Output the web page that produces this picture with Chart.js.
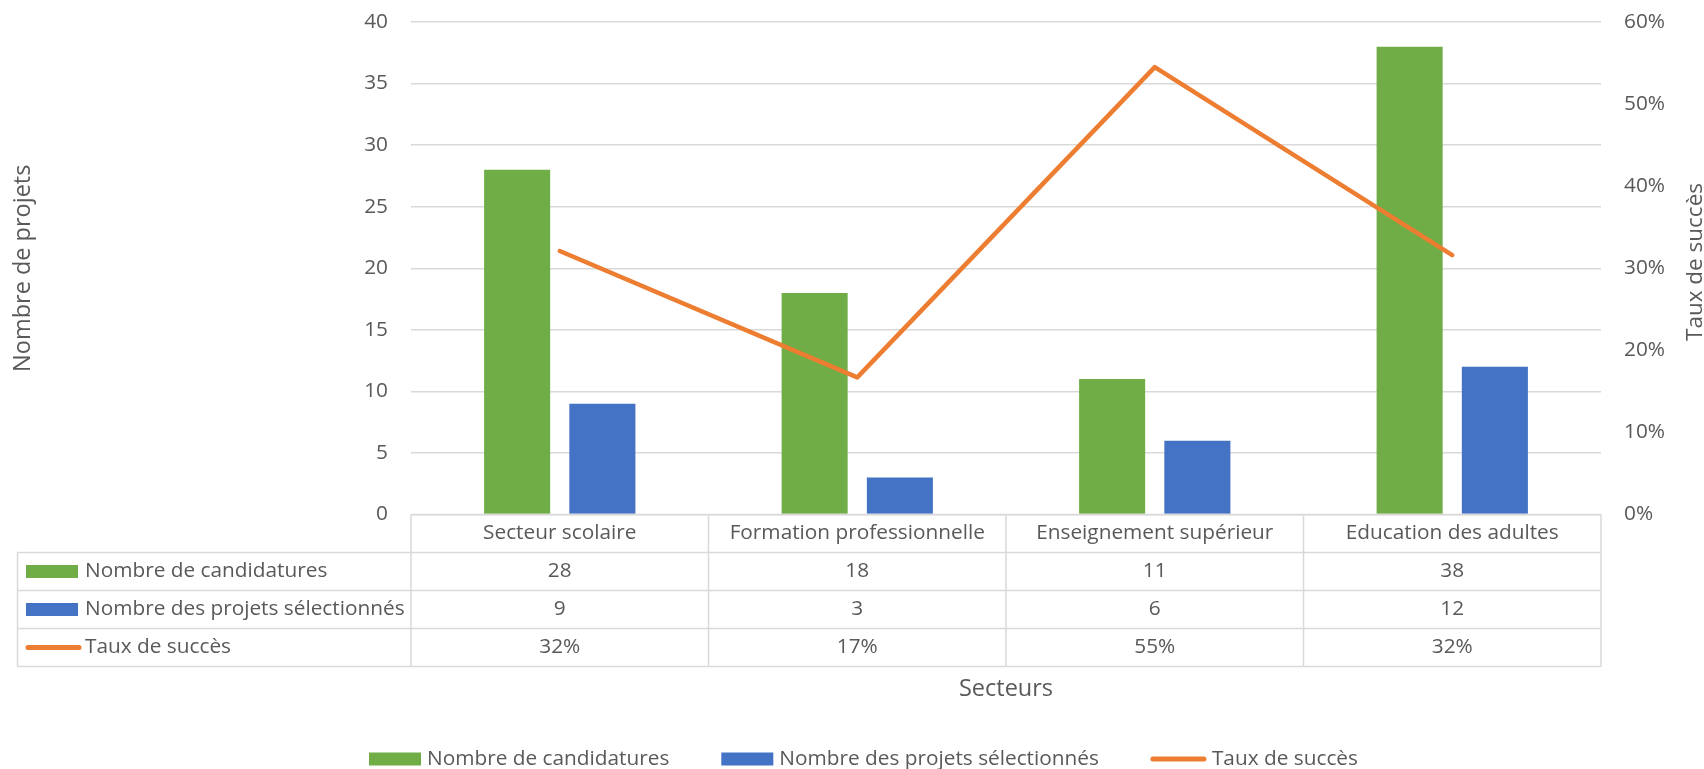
<!DOCTYPE html>
<html lang="fr">
<head>
<meta charset="utf-8">
<title>Secteurs</title>
<script src="https://cdn.jsdelivr.net/npm/chart.js@4/dist/chart.umd.min.js"></script>
<style>
  html, body { margin: 0; padding: 0; background: #fff; }
  #wrap { width: 1704px; height: 769px; }
</style>
</head>
<body>
<div id="wrap"><canvas id="graphique" width="1704" height="769"></canvas></div>
<script>
// Données
const secteurs = ["Secteur scolaire", "Formation professionnelle", "Enseignement supérieur", "Education des adultes"];
const candidatures = [28, 18, 11, 38];
const selectionnes = [9, 3, 6, 12];
const tauxSucces = [0.321, 0.167, 0.545, 0.316];

const nomsSeries = ["Nombre de candidatures", "Nombre des projets sélectionnés", "Taux de succès"];
const couleurs = ["#70AD47", "#4472C4", "#ED7D31"];

const texte = "#595959";
const grille = "#D9D9D9";
const police = "'Open Sans', sans-serif";
const taille = 20.8;
const tailleTitre = 23.5;

function pct(v) { return Math.round(v * 100) + "%"; }

// Tableau de données sous l'axe + titres + légende
const tableauPlugin = {
  id: "tableau",
  afterDraw(chart) {
    const { ctx, chartArea } = chart;
    const xs = chart.scales.x;
    const rowH = 38;
    const gauche = 17.5;
    const top = chartArea.bottom;
    const colW = chartArea.width / secteurs.length;
    const bas = top + rowH * 4;

    ctx.save();
    ctx.strokeStyle = grille;
    ctx.lineWidth = 1.5;

    // lignes horizontales
    ctx.beginPath();
    ctx.moveTo(chartArea.left, top);
    ctx.lineTo(chartArea.right, top);
    for (let k = 1; k <= 4; k++) {
      ctx.moveTo(gauche, top + rowH * k);
      ctx.lineTo(chartArea.right, top + rowH * k);
    }
    // lignes verticales
    ctx.moveTo(gauche, top + rowH);
    ctx.lineTo(gauche, bas);
    for (let i = 0; i <= secteurs.length; i++) {
      const x = chartArea.left + colW * i;
      ctx.moveTo(x, top);
      ctx.lineTo(x, bas);
    }
    ctx.stroke();

    ctx.fillStyle = texte;
    ctx.font = taille + "px " + police;
    ctx.textBaseline = "middle";
    ctx.textAlign = "center";

    const lignes = [
      secteurs,
      candidatures.map(String),
      selectionnes.map(String),
      tauxSucces.map(pct)
    ];
    lignes.forEach((ligne, r) => {
      ligne.forEach((t, i) => {
        ctx.fillText(t, xs.getPixelForValue(i), top + rowH * r + rowH / 2);
      });
    });

    // clés de légende dans le tableau
    ctx.textAlign = "left";
    nomsSeries.forEach((nom, r) => {
      const cy = top + rowH * (r + 1) + rowH / 2;
      dessinerCle(ctx, r, 26, cy);
      ctx.fillStyle = texte;
      ctx.fillText(nom, 85, cy);
    });

    // légende en bas
    let x = 369;
    const ly = 759;
    nomsSeries.forEach((nom, r) => {
      const w = dessinerCle(ctx, r, x, ly);
      ctx.fillStyle = texte;
      ctx.fillText(nom, x + w + 6, ly);
      x += w + 6 + ctx.measureText(nom).width + 52;
    });

    // titre axe x
    ctx.font = tailleTitre + "px " + police;
    ctx.textAlign = "center";
    ctx.fillText("Secteurs", (chartArea.left + chartArea.right) / 2, 689);

    // titre axe droit
    ctx.font = "22.5px " + police;
    ctx.save();
    ctx.translate(1696, 262);
    ctx.rotate(-Math.PI / 2);
    ctx.fillText("Taux de succès", 0, 0);
    ctx.restore();

    ctx.restore();
  }
};

function dessinerCle(ctx, r, x, cy) {
  if (r < 2) {
    ctx.fillStyle = couleurs[r];
    ctx.fillRect(x, cy - 6.5, 52, 13);
    return 52;
  }
  ctx.save();
  ctx.strokeStyle = couleurs[r];
  ctx.lineWidth = 5;
  ctx.lineCap = "round";
  ctx.beginPath();
  ctx.moveTo(x + 2, cy);
  ctx.lineTo(x + 53, cy);
  ctx.stroke();
  ctx.restore();
  return 55;
}

function ajuster(largeur) {
  return scale => {
    scale.width = largeur;
    scale.paddingTop = 0;
    scale.paddingBottom = 0;
  };
}

const ctx = document.getElementById("graphique").getContext("2d");
new Chart(ctx, {
  type: "bar",
  data: {
    labels: secteurs,
    datasets: [
      {
        label: nomsSeries[0],
        data: candidatures,
        backgroundColor: couleurs[0],
        yAxisID: "y",
        order: 1,
        categoryPercentage: 0.573,
        barPercentage: 0.775
      },
      {
        label: nomsSeries[1],
        data: selectionnes,
        backgroundColor: couleurs[1],
        yAxisID: "y",
        order: 1,
        categoryPercentage: 0.573,
        barPercentage: 0.775
      },
      {
        type: "line",
        label: nomsSeries[2],
        data: tauxSucces,
        borderColor: couleurs[2],
        backgroundColor: couleurs[2],
        borderWidth: 4.5,
        borderCapStyle: "round",
        borderJoinStyle: "round",
        pointRadius: 0,
        tension: 0,
        yAxisID: "y1",
        order: 0
      }
    ]
  },
  options: {
    responsive: false,
    animation: false,
    layout: { padding: { top: 22, right: 0, bottom: 254.5, left: 0 } },
    plugins: {
      legend: { display: false },
      tooltip: { enabled: false }
    },
    scales: {
      x: {
        display: false,
        offset: true
      },
      y: {
        position: "left",
        min: 0,
        max: 40,
        ticks: { stepSize: 5, color: texte, padding: 23, font: { family: police, size: taille } },
        grid: { color: grille, lineWidth: 1.5, drawTicks: false },
        border: { display: false },
        title: {
          display: true,
          text: "Nombre de projets",
          color: texte,
          font: { family: police, size: tailleTitre },
          padding: { top: 9.5, bottom: 0 }
        },
        afterFit: ajuster(411)
      },
      y1: {
        position: "right",
        min: 0,
        max: 0.6,
        ticks: {
          stepSize: 0.1,
          color: texte,
          padding: 23,
          font: { family: police, size: taille },
          callback: v => pct(v)
        },
        grid: { display: false, drawTicks: false },
        border: { display: false },
        afterFit: ajuster(103)
      }
    }
  },
  plugins: [tableauPlugin]
});
</script>
</body>
</html>
